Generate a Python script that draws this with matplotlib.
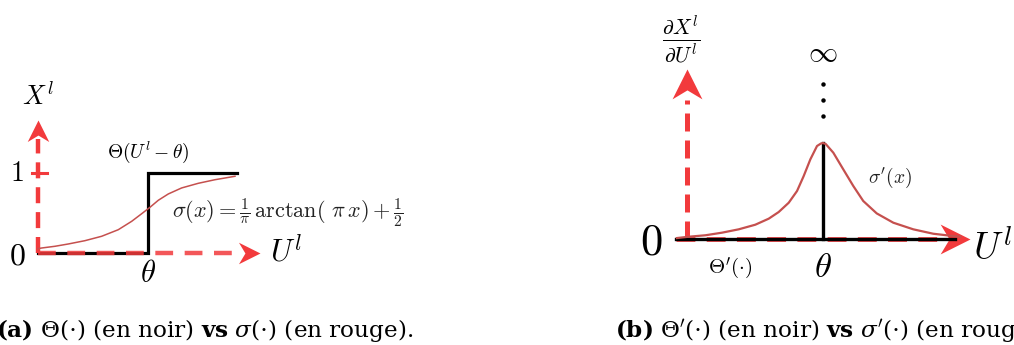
import numpy as np
import matplotlib.pyplot as plt
from matplotlib.markers import MarkerStyle
from matplotlib.path import Path
from matplotlib.transforms import Affine2D


# ---- panel (a): step vs sigmoid (theta at u=1) ----
step_u = [0.0, 1.0, 1.0, 1.81]
step_y = [0.0, 0.0, 1.0, 1.0]
sig_u = [0.0, 0.034, 0.155, 0.275, 0.427, 0.579, 0.730, 0.852, 0.943, 1.018,
         1.094, 1.185, 1.306, 1.457, 1.609, 1.791]
sig_y = [0.055, 0.0625, 0.084, 0.1125, 0.154, 0.209, 0.291, 0.396, 0.491, 0.571,
         0.659, 0.738, 0.813, 0.871, 0.916, 0.959]
a_xaxis = [0.0, 1.84]
a_xtip = 2.02
a_yaxis = [0.0, 1.42]
a_ytip = 1.66

# ---- panel (b): derivatives ----
dstep_u = [-0.08, 1.97]
spike_u = [1.0, 1.0]
spike_y = [0.0, 1.0]
dsig_u = [-0.074, 0.0125, 0.135, 0.257, 0.380, 0.502, 0.601, 0.674, 0.748, 0.809,
          0.858, 0.907, 0.956, 0.985, 1.0, 1.02, 1.076, 1.149, 1.223, 1.296, 1.395,
          1.517, 1.664, 1.811, 1.958, 2.01]
dsig_y = [0.01, 0.024, 0.039, 0.066, 0.101, 0.149, 0.212, 0.281, 0.378, 0.500,
          0.656, 0.830, 0.969, 0.995, 1.0, 0.99, 0.899, 0.726, 0.552, 0.396, 0.267,
          0.170, 0.101, 0.055, 0.031, 0.025]
dots_y = [1.28, 1.45, 1.61]
b_xaxis = [-0.08, 1.90]
b_xtip = 2.08
b_yaxis = [0.0, 1.45]
b_ytip = 1.77

red = '#f23a3c'
curve_red = '#c5504e'

head = Path([(0, 0), (-1, 0.5), (-0.7, 0), (-1, -0.5), (0, 0)],
            [Path.MOVETO, Path.LINETO, Path.LINETO, Path.LINETO, Path.CLOSEPOLY])


def arrow_marker(angle):
    return MarkerStyle(head, transform=Affine2D().rotate_deg(angle))


fig = plt.figure(figsize=(10.14, 3.45), dpi=100)
axa = fig.add_axes([0, 0, 0.5, 1])
axb = fig.add_axes([0.5, 0, 0.5, 1])
for ax in (axa, axb):
    ax.axis('off')
axa.set_xlim(-0.345, 4.264)
axa.set_ylim(-1.15, 3.1625)
axb.set_xlim(-1.3235, 2.4044)
axb.set_ylim(-1.104, 2.490)

# panel (a)
axa.plot(step_u, step_y, color='black', lw=2.3, solid_joinstyle='miter', zorder=2)
axa.plot(a_xaxis, [0, 0], color=red, lw=3.2, dashes=(4.0, 2.6), alpha=0.85, zorder=3)
axa.plot([0, 0], a_yaxis, color=red, lw=3.2, dashes=(3.6, 2.0), zorder=3)
axa.plot([-0.05, 0.08], [1, 1], color=red, lw=2.2, zorder=3)
axa.plot([a_xtip], [0], marker=arrow_marker(0), ms=31, color=red, mec='none')
axa.plot([0], [a_ytip], marker=arrow_marker(90), ms=31, color=red, mec='none')
axa.plot(sig_u, sig_y, color=curve_red, lw=1.1, zorder=4)

axa.text(0, 1.85, r'$X^l$', fontsize=19, ha='center', va='baseline', math_fontfamily='cm')
axa.text(-0.19, 1.0, r'$1$', fontsize=20, ha='center', va='center', math_fontfamily='cm')
axa.text(-0.19, -0.04, r'$0$', fontsize=23, ha='center', va='center', math_fontfamily='cm')
axa.text(1.0, -0.25, r'$\theta$', fontsize=22, ha='center', va='center', math_fontfamily='cm')
axa.text(2.11, -0.11, r'$U^l$', fontsize=22, ha='left', va='baseline', math_fontfamily='cm')
axa.text(1.0, 1.26, r'$\Theta(U^l-\theta)$', fontsize=14, ha='center', va='center',
         math_fontfamily='cm')
axa.text(1.22, 0.51, r'$\sigma(x)=\frac{1}{\pi}\,\mathrm{arctan}(\ \pi\, x)+\frac{1}{2}$',
         fontsize=16, ha='left', va='center', math_fontfamily='cm', color='#222222')

# panel (b)
axb.plot(b_xaxis, [0, 0], color=red, lw=3.4, dashes=(4.0, 2.4), zorder=2)
axb.plot([0, 0], b_yaxis, color=red, lw=3.6, dashes=(3.6, 1.8), zorder=2)
axb.plot([b_xtip], [0], marker=arrow_marker(0), ms=43, color=red, mec='none', zorder=2)
axb.plot([0], [b_ytip], marker=arrow_marker(90), ms=43, color=red, mec='none', zorder=2)
axb.plot(dstep_u, [0, 0], color='black', lw=2.4, zorder=3)
axb.plot(spike_u, spike_y, color='black', lw=2.4, zorder=3)
axb.plot(dsig_u, dsig_y, color=curve_red, lw=1.6, zorder=4)
axb.plot([1.0] * len(dots_y), dots_y, 'o', color='black', ms=3.2, mec='none')

axb.text(-0.04, 2.07, r'$\frac{\partial X^l}{\partial U^l}$', fontsize=22, ha='center',
         va='center', math_fontfamily='cm')
axb.text(1.0, 1.94, r'$\infty$', fontsize=21, ha='center', va='center', math_fontfamily='cm')
axb.text(-0.26, -0.03, r'$0$', fontsize=32, ha='center', va='center', math_fontfamily='cm')
axb.text(1.0, -0.29, r'$\theta$', fontsize=25, ha='center', va='center', math_fontfamily='cm')
axb.text(0.32, -0.30, r"$\Theta'(\cdot)$", fontsize=15, ha='center', va='center',
         math_fontfamily='cm')
axb.text(1.49, 0.64, r"$\sigma'(x)$", fontsize=14, ha='center', va='center',
         math_fontfamily='cm', color='#222222')
axb.text(2.10, -0.22, r'$U^l$', fontsize=27, ha='left', va='baseline', math_fontfamily='cm')

# captions
fig.text(-4 / 1014, 8 / 345,
         r'$\mathbf{(a)}$ $\Theta(\cdot)$ (en noir) $\mathbf{vs}$ $\sigma(\cdot)$ (en rouge).',
         fontsize=16.7, family='DejaVu Serif', math_fontfamily='dejavuserif',
         ha='left', va='baseline')
fig.text(615 / 1014, 8 / 345,
         r"$\mathbf{(b)}$ $\Theta'(\cdot)$ (en noir) $\mathbf{vs}$ $\sigma'(\cdot)$ (en rouge).",
         fontsize=16.7, family='DejaVu Serif', math_fontfamily='dejavuserif',
         ha='left', va='baseline')

fig.savefig('out.png', dpi=100)
